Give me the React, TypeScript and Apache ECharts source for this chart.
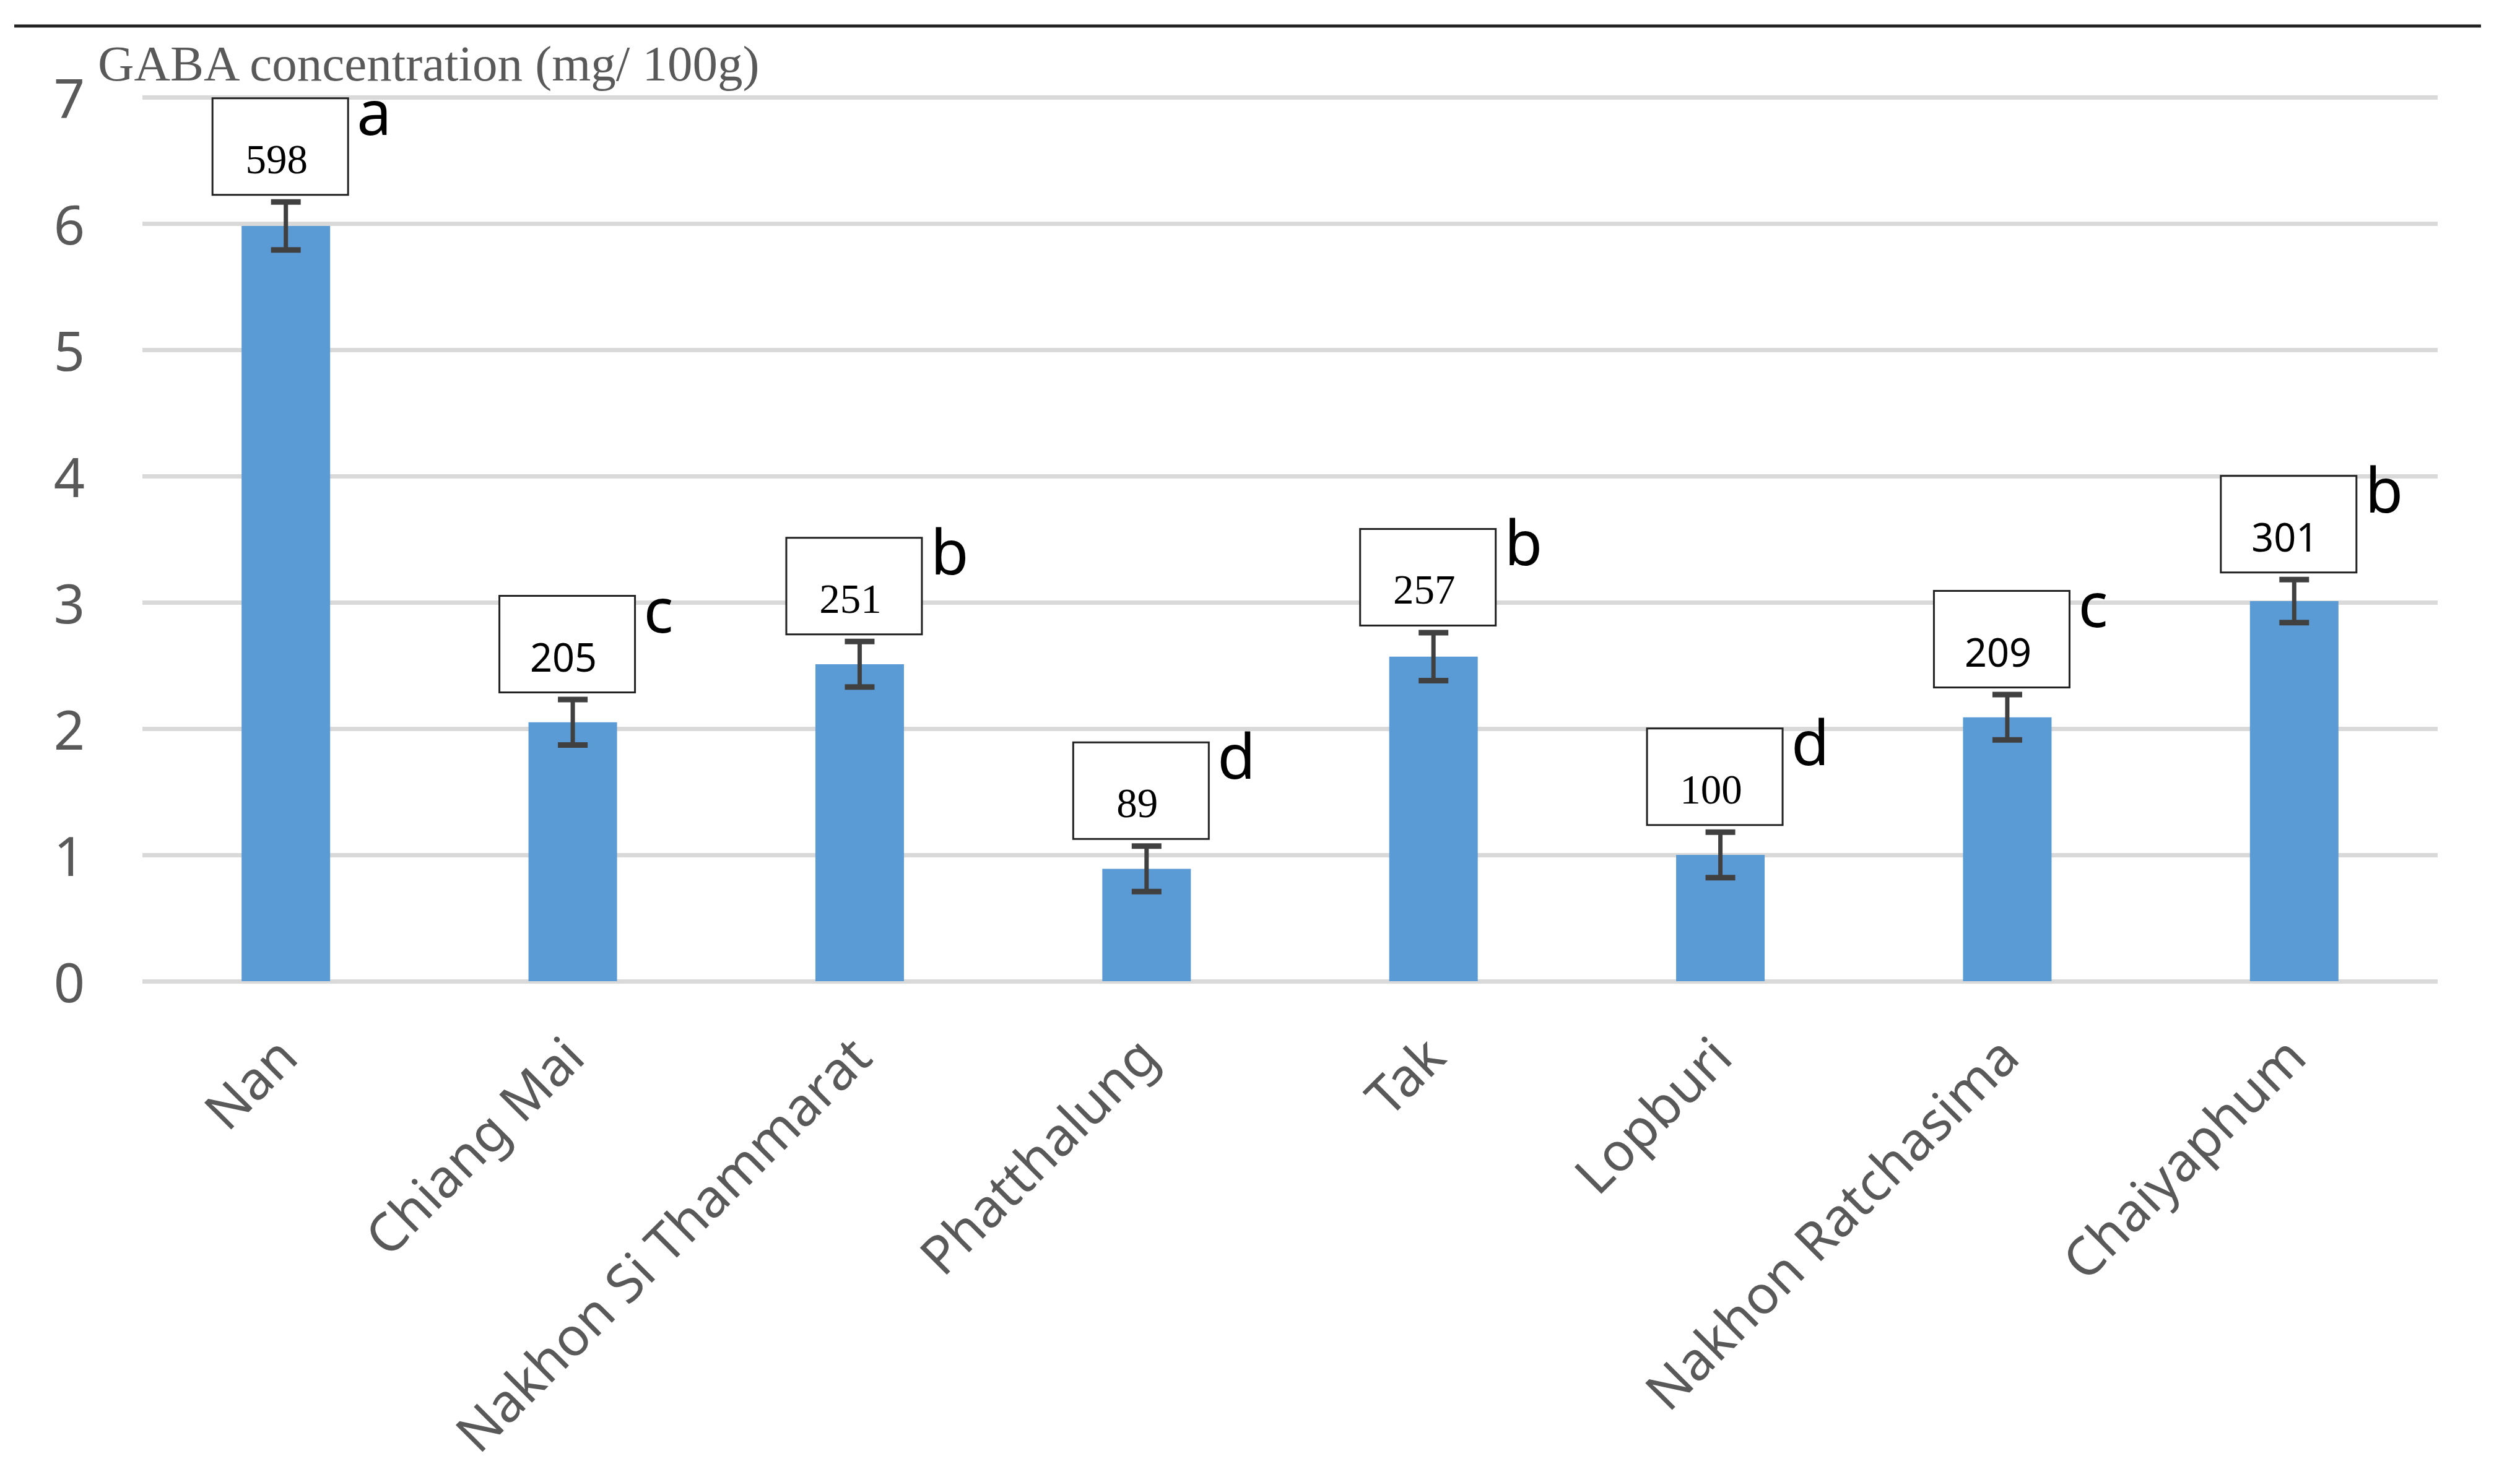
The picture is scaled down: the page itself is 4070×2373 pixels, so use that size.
import React, { useEffect, useRef } from "react";
import * as echarts from "echarts";

// ---- data ----
const categories = [
  "Nan",
  "Chiang Mai",
  "Nakhon Si Thammarat",
  "Phatthalung",
  "Tak",
  "Lopburi",
  "Nakhon Ratchasima",
  "Chaiyaphum",
];
const gabaValues = [5.98, 2.05, 2.51, 0.89, 2.57, 1.0, 2.09, 3.01];
const errorValues = [0.19, 0.18, 0.18, 0.18, 0.19, 0.18, 0.18, 0.17];
const boxLabels = ["598", "205", "251", "89", "257", "100", "209", "301"];
const groupLetters = ["a", "c", "b", "d", "b", "d", "c", "b"];
const yAxisName = "GABA concentration (mg/ 100g)";

// ---- styles ----
const SERIF = "'Liberation Serif', 'Times New Roman', serif";
const SANS = "'Noto Sans', 'Open Sans', sans-serif";
const boxLabelFonts = [SERIF, SANS, SERIF, SERIF, SERIF, SERIF, SANS, SANS];

const W = 4070;
const H = 2373;
const GRID_LEFT = 230;
const GRID_RIGHT = 133;
const GRID_TOP = 157;
const GRID_BOTTOM = 788;

export default function App() {
  const ref = useRef<HTMLDivElement>(null);

  useEffect(() => {
    if (!ref.current) return;
    const chart = echarts.init(ref.current, null, { renderer: "svg" });

    const errData = categories.map((_, i) => [i, gabaValues[i], errorValues[i]]);

    const option: any = {
      animation: false,
      backgroundColor: "#ffffff",
      grid: {
        left: GRID_LEFT,
        right: GRID_RIGHT,
        top: GRID_TOP,
        bottom: GRID_BOTTOM,
        containLabel: false,
      },
      graphic: [
        {
          type: "line",
          shape: { x1: 23, y1: 42, x2: 4007, y2: 42 },
          style: { stroke: "#222222", lineWidth: 5 },
        },
        {
          type: "text",
          x: 158,
          y: 103,
          style: {
            text: yAxisName,
            font: `81px ${SERIF}`,
            fill: "#595959",
            textAlign: "left",
            textVerticalAlign: "middle",
          },
        },
      ],
      xAxis: {
        type: "category",
        data: categories,
        axisLine: { show: false },
        axisTick: { show: false },
        splitLine: { show: false },
        axisLabel: {
          interval: 0,
          rotate: 45,
          margin: 104,
          fontSize: 86,
          fontFamily: SANS,
          color: "#595959",
        },
      },
      yAxis: {
        type: "value",
        min: 0,
        max: 7,
        interval: 1,
        axisLine: { show: false },
        axisTick: { show: false },
        axisLabel: {
          margin: 93,
          fontSize: 88,
          fontFamily: SANS,
          color: "#595959",
        },
        splitLine: { lineStyle: { color: "#D9D9D9", width: 7 } },
      },
      series: [
        {
          type: "bar",
          data: gabaValues,
          barWidth: 143,
          itemStyle: { color: "#5B9BD5" },
          z: 2,
        },
        {
          type: "custom",
          data: errData,
          z: 3,
          clip: false,
          renderItem: (params: any, api: any) => {
            const i = api.value(0);
            const v = api.value(1);
            const e = api.value(2);
            const top = api.coord([i, v + e]);
            const bot = api.coord([i, v - e]);
            const half = 24;
            const stroke = "#404040";
            return {
              type: "group",
              children: [
                {
                  type: "line",
                  shape: { x1: top[0], y1: top[1], x2: bot[0], y2: bot[1] },
                  style: { stroke, lineWidth: 7 },
                },
                {
                  type: "line",
                  shape: { x1: top[0] - half, y1: top[1], x2: top[0] + half, y2: top[1] },
                  style: { stroke, lineWidth: 9 },
                },
                {
                  type: "line",
                  shape: { x1: bot[0] - half, y1: bot[1], x2: bot[0] + half, y2: bot[1] },
                  style: { stroke, lineWidth: 9 },
                },
              ],
            };
          },
        },
        {
          type: "custom",
          data: errData,
          z: 4,
          clip: false,
          renderItem: (params: any, api: any) => {
            const idx = params.dataIndex;
            const i = api.value(0);
            const v = api.value(1);
            const e = api.value(2);
            const top = api.coord([i, v + e]);
            const bw = 219;
            const bh = 156;
            const boxBottom = top[1] - 4.5 - 7;
            const boxTop = boxBottom - bh;
            const boxLeft = top[0] - 9 - bw / 2;
            const cx = boxLeft + bw / 2;
            const font = boxLabelFonts[idx];
            const isSerif = font === SERIF;
            return {
              type: "group",
              children: [
                {
                  type: "rect",
                  shape: { x: boxLeft, y: boxTop, width: bw, height: bh },
                  style: { fill: "#ffffff", stroke: "#222222", lineWidth: 3 },
                },
                {
                  type: "text",
                  x: cx - 6,
                  y: boxTop + bh / 2 + 20,
                  style: {
                    text: boxLabels[idx],
                    font: `${isSerif ? 67 : 63}px ${font}`,
                    fill: "#000000",
                    textAlign: "center",
                    textVerticalAlign: "middle",
                  },
                },
                {
                  type: "text",
                  x: boxLeft + bw + 14,
                  y: boxTop + 20,
                  style: {
                    text: groupLetters[idx],
                    font: `100px ${SANS}`,
                    fill: "#000000",
                    textAlign: "left",
                    textVerticalAlign: "middle",
                  },
                },
              ],
            };
          },
        },
      ],
    };

    chart.setOption(option);
    return () => {
      chart.dispose();
    };
  }, []);

  return (
    <div
      ref={ref}
      style={{ position: "absolute", left: 0, top: 0, width: W, height: H, background: "#fff" }}
    />
  );
}
